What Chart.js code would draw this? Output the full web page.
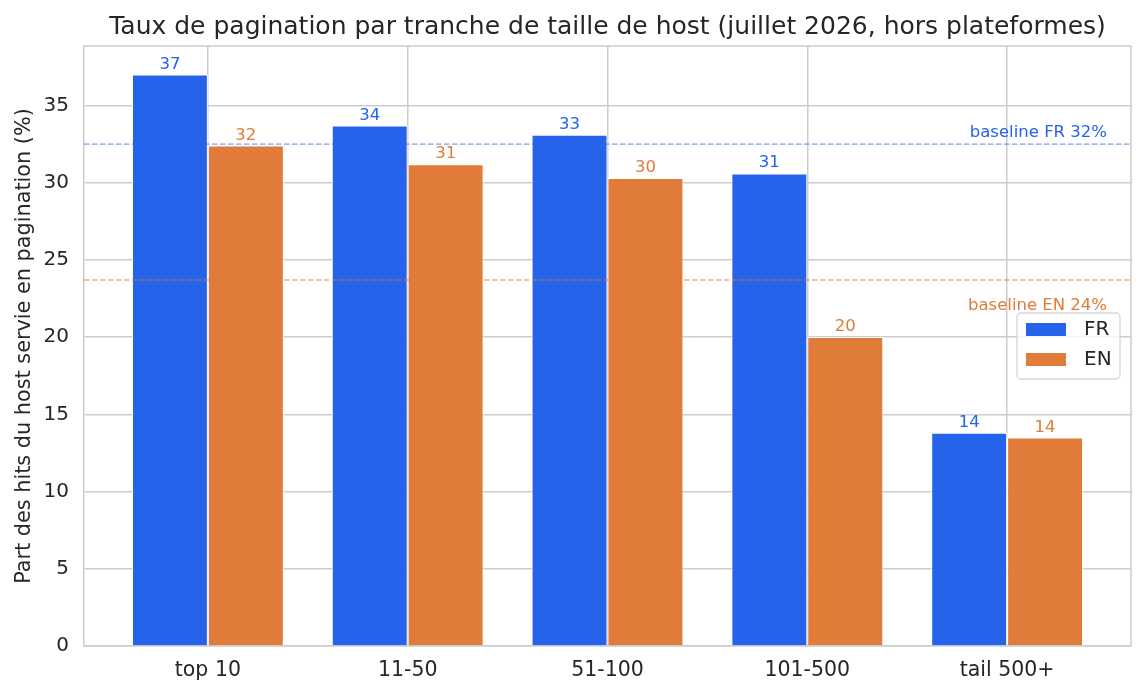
<!DOCTYPE html>
<html lang="fr">
<head>
<meta charset="utf-8">
<title>Taux de pagination par tranche de taille de host</title>
<script src="https://cdn.jsdelivr.net/npm/chart.js@4.4.1/dist/chart.umd.min.js"></script>
<style>
  html, body { margin: 0; padding: 0; background: #fff; }
  #cadre { width: 1145px; height: 696px; }
</style>
</head>
<body>
<div id="cadre"><canvas id="graphique"></canvas></div>
<script>
// donnees
const tranches = ['top 10', '11-50', '51-100', '101-500', 'tail 500+'];
const tauxFR = [37.0, 33.7, 33.1, 30.6, 13.8];
const tauxEN = [32.4, 31.2, 30.3, 20.0, 13.5];
const ticksY = [0, 5, 10, 15, 20, 25, 30, 35];
const baselines = [32.5, 23.7];
const baselineTextes = ['baseline FR 32%', 'baseline EN 24%'];
const titre = 'Taux de pagination par tranche de taille de host (juillet 2026, hors plateformes)';

const bleu = '#2563eb';
const orange = '#e07b39';
const gris = '#cccccc';
const texte = '#262626';
const police = 'DejaVu Sans';

// titre, lignes de reference, valeurs au dessus des barres, legende et cadre
const annotations = {
  id: 'annotations',
  afterDatasetsDraw(chart) {
    const { ctx, chartArea, scales } = chart;
    const couleursLigne = ['rgba(37,99,235,0.6)', 'rgba(224,123,57,0.6)'];
    const couleursTexte = [bleu, orange];
    const decalage = [-7, 30]; // position du texte par rapport a la ligne
    ctx.save();
    baselines.forEach((v, i) => {
      const y = scales.y.getPixelForValue(v);
      ctx.beginPath();
      ctx.setLineDash([5.5, 2.5]);
      ctx.lineWidth = 1.3;
      ctx.strokeStyle = couleursLigne[i];
      ctx.moveTo(chartArea.left, y);
      ctx.lineTo(chartArea.right, y);
      ctx.stroke();
      ctx.setLineDash([]);
      ctx.font = '16.5px "' + police + '"';
      ctx.fillStyle = couleursTexte[i];
      ctx.textAlign = 'right';
      ctx.textBaseline = 'alphabetic';
      ctx.fillText(baselineTextes[i], chartArea.right - 24, y + decalage[i]);
    });

    ctx.font = '16.5px "' + police + '"';
    ctx.textAlign = 'center';
    ctx.textBaseline = 'alphabetic';
    chart.data.datasets.forEach((ds, di) => {
      const meta = chart.getDatasetMeta(di);
      ctx.fillStyle = ds.backgroundColor;
      meta.data.forEach((barre, i) => {
        ctx.fillText(Math.round(ds.data[i].y), barre.x, barre.y - 6);
      });
    });
    ctx.restore();
  },
  afterDraw(chart) {
    const { ctx, chartArea } = chart;
    ctx.save();
    // titre centre sur la zone du graphique
    ctx.font = '25px "' + police + '"';
    ctx.fillStyle = texte;
    ctx.textAlign = 'center';
    ctx.textBaseline = 'alphabetic';
    ctx.fillText(titre, (chartArea.left + chartArea.right) / 2, 34);

    // haut et droite du cadre
    ctx.strokeStyle = gris;
    ctx.lineWidth = 1.5;
    ctx.beginPath();
    ctx.moveTo(chartArea.left, chartArea.top);
    ctx.lineTo(chartArea.right, chartArea.top);
    ctx.lineTo(chartArea.right, chartArea.bottom);
    ctx.stroke();

    // legende
    const lx = 1017, ly = 313, lw = 103, lh = 66;
    ctx.beginPath();
    ctx.roundRect(lx, ly, lw, lh, 4);
    ctx.fillStyle = 'rgba(255,255,255,0.8)';
    ctx.fill();
    ctx.strokeStyle = 'rgba(204,204,204,0.8)';
    ctx.lineWidth = 1.3;
    ctx.stroke();
    ctx.font = '20px "' + police + '"';
    ctx.textAlign = 'left';
    ctx.textBaseline = 'middle';
    chart.data.datasets.forEach((ds, i) => {
      const y = ly + 10 + i * 30;
      ctx.fillStyle = ds.backgroundColor;
      ctx.fillRect(lx + 9, y, 40, 13);
      ctx.fillStyle = texte;
      ctx.fillText(ds.label, lx + 67, y + 7);
    });
    ctx.restore();
  }
};

const ctx = document.getElementById('graphique');

new Chart(ctx, {
  type: 'bar',
  data: {
    datasets: [
      {
        label: 'FR',
        data: tauxFR.map((v, i) => ({ x: i, y: v })),
        backgroundColor: bleu,
        borderColor: '#ffffff',
        borderWidth: 1
      },
      {
        label: 'EN',
        data: tauxEN.map((v, i) => ({ x: i, y: v })),
        backgroundColor: orange,
        borderColor: '#ffffff',
        borderWidth: 1
      }
    ]
  },
  options: {
    responsive: true,
    maintainAspectRatio: false,
    animation: false,
    categoryPercentage: 0.76,
    barPercentage: 1,
    layout: { padding: { left: 0, right: 14, top: 46, bottom: 0 } },
    plugins: {
      legend: { display: false },
      tooltip: { enabled: false },
      title: { display: false }
    },
    scales: {
      x: {
        type: 'linear',
        min: -0.62,
        max: 4.62,
        offset: false,
        afterBuildTicks: (s) => { s.ticks = tranches.map((t, i) => ({ value: i })); },
        afterFit: (s) => { s.height = 50; },
        ticks: {
          callback: (v) => tranches[v],
          color: texte,
          font: { family: police, size: 20.5 },
          padding: 12,
          autoSkip: false,
          maxRotation: 0
        },
        grid: { color: gris, lineWidth: 1.5, drawTicks: false, offset: false },
        border: { color: gris, width: 1.5 }
      },
      y: {
        min: 0,
        max: 38.85,
        afterBuildTicks: (s) => { s.ticks = ticksY.map((v) => ({ value: v })); },
        afterFit: (s) => { s.width = 84; },
        ticks: {
          color: texte,
          font: { family: police, size: 20 },
          padding: 15
        },
        title: {
          display: true,
          text: 'Part des hits du host servie en pagination (%)',
          color: texte,
          font: { family: police, size: 20.8 },
          padding: { top: 12, bottom: 0 }
        },
        grid: { color: gris, lineWidth: 1.5, drawTicks: false },
        border: { color: gris, width: 1.5 }
      }
    }
  },
  plugins: [annotations]
});
</script>
</body>
</html>
